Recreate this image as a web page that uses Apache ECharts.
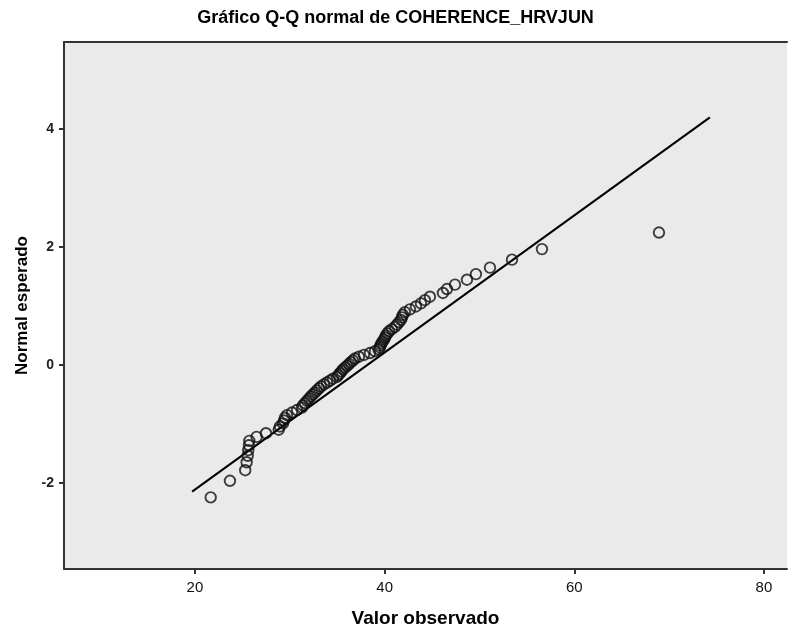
<!DOCTYPE html>
<html>
<head>
<meta charset="utf-8">
<script src="https://cdn.jsdelivr.net/npm/echarts@6/dist/echarts.min.js"></script>
<style>
html,body{margin:0;padding:0;background:#fff;}
#c{width:791px;height:633px;}
</style>
</head>
<body>
<div id="c"></div>
<script>
// Observed values (x) and expected normal values (y)
var observed = [
  21.66, 23.69, 25.30, 25.45, 25.56, 25.62, 25.69, 25.73, 26.50, 27.49,
  28.83, 28.96, 29.28, 29.39, 29.49, 29.70, 30.23, 30.76, 31.28, 31.39,
  31.60, 31.81, 32.02, 32.23, 32.44, 32.65, 32.86, 33.08, 33.29, 33.60,
  33.92, 34.24, 34.55, 34.97, 35.13, 35.29, 35.45, 35.61, 35.82, 36.03,
  36.24, 36.45, 36.66, 36.87, 37.29, 37.82, 38.45, 38.98, 39.35, 39.51,
  39.56, 39.67, 39.77, 39.93, 40.04, 40.14, 40.30, 40.46, 40.77, 41.09,
  41.30, 41.51, 41.72, 41.83, 41.93, 42.14, 42.67, 43.30, 43.83, 44.25,
  44.78, 46.15, 46.57, 47.42, 48.68, 49.63, 51.11, 53.43, 56.59, 68.93
];
var expected = [
  -2.246, -1.965, -1.786, -1.651, -1.541, -1.446, -1.363, -1.288, -1.221, -1.158,
  -1.099, -1.044, -0.992, -0.943, -0.896, -0.851, -0.807, -0.765, -0.724, -0.684,
  -0.646, -0.608, -0.571, -0.535, -0.500, -0.465, -0.431, -0.397, -0.364, -0.331,
  -0.298, -0.266, -0.234, -0.202, -0.171, -0.140, -0.109, -0.077, -0.046, -0.015,
  0.015, 0.046, 0.077, 0.109, 0.140, 0.171, 0.202, 0.234, 0.266, 0.298,
  0.331, 0.364, 0.397, 0.431, 0.465, 0.500, 0.535, 0.571, 0.608, 0.646,
  0.684, 0.724, 0.765, 0.807, 0.851, 0.896, 0.943, 0.992, 1.044, 1.099,
  1.158, 1.221, 1.288, 1.363, 1.446, 1.541, 1.651, 1.786, 1.965, 2.246
];
// Reference line endpoints
var refLineX = [19.7, 74.3];
var refLineY = [-2.15, 4.2];
// Tick labels
var xTicks = [20, 40, 60, 80];
var yTicks = [-2, 0, 2, 4];

var points = observed.map(function (v, i) { return [v, expected[i]]; });
var lineData = refLineX.map(function (v, i) { return [v, refLineY[i]]; });

var chart = echarts.init(document.getElementById('c'), null, {renderer: 'canvas'});
chart.setOption({
  backgroundColor: '#ffffff',
  animation: false,
  title: {
    text: 'Gráfico Q-Q normal de COHERENCE_HRVJUN',
    left: 'center',
    top: 4,
    textStyle: {fontFamily: 'Liberation Sans, Arial', fontWeight: 'bold', fontSize: 18, color: '#000'}
  },
  grid: {
    left: 64, right: 4, top: 42, bottom: 59,
    show: true, backgroundColor: '#eaeaea', borderWidth: 0
  },
  xAxis: [{
    type: 'value',
    min: 6.19, max: 82.43,
    position: 'bottom',
    name: 'Valor observado',
    nameLocation: 'middle',
    nameGap: 40,
    nameTextStyle: {fontFamily: 'Liberation Sans Narrow, Arial Narrow, Liberation Sans', fontWeight: 'bold', fontSize: 19, color: '#000'},
    splitLine: {show: false},
    axisLine: {show: true, onZero: false, lineStyle: {color: '#333', width: 2}},
    axisTick: {show: true, customValues: xTicks, length: 5, lineStyle: {color: '#333', width: 2}},
    axisLabel: {customValues: xTicks, margin: 11, fontFamily: 'Liberation Sans Narrow, Arial Narrow, Liberation Sans', fontSize: 15, color: '#111'}
  }, {
    type: 'value',
    min: 6.19, max: 82.43,
    position: 'top',
    splitLine: {show: false},
    axisLine: {show: true, onZero: false, lineStyle: {color: '#333', width: 2}},
    axisTick: {show: false},
    axisLabel: {show: false}
  }],
  yAxis: {
    type: 'value',
    min: -3.462, max: 5.479,
    name: 'Normal esperado',
    nameLocation: 'middle',
    nameGap: 32,
    nameRotate: 90,
    nameTextStyle: {fontFamily: 'Liberation Sans, Arial', fontWeight: 'bold', fontSize: 17, color: '#000'},
    splitLine: {show: false},
    axisLine: {show: true, onZero: false, lineStyle: {color: '#333', width: 2}},
    axisTick: {show: true, customValues: yTicks, length: 5, lineStyle: {color: '#333', width: 2}},
    axisLabel: {customValues: yTicks, margin: 10, fontFamily: 'Liberation Sans, Arial', fontWeight: 'bold', fontSize: 14, color: '#222'}
  },
  series: [{
    type: 'line',
    data: lineData,
    xAxisIndex: 0,
    showSymbol: false,
    symbol: 'none',
    lineStyle: {color: '#000', width: 2},
    silent: true,
    z: 2
  }, {
    type: 'scatter',
    data: points,
    xAxisIndex: 0,
    symbol: 'circle',
    symbolSize: 10.5,
    itemStyle: {color: 'rgba(0,0,0,0)', borderColor: '#111', borderWidth: 1.9},
    z: 3
  }]
});
</script>
</body>
</html>
